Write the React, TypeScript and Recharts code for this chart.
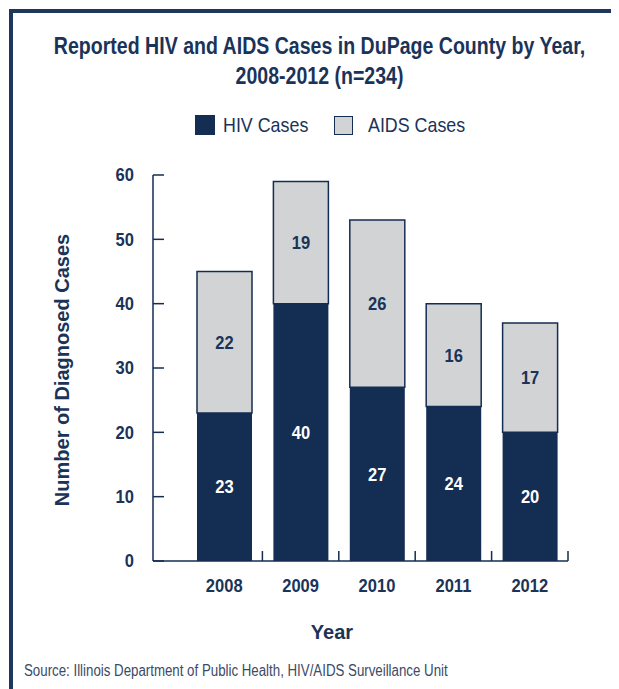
import React from "react";
import { BarChart, Bar, XAxis, YAxis, LabelList, Legend } from "recharts";

const years = ["2008", "2009", "2010", "2011", "2012"];
const hivCases = [23, 40, 27, 24, 20];
const aidsCases = [22, 19, 26, 16, 17];
const yTicks = [0, 10, 20, 30, 40, 50, 60];

const NAVY = "#142d52";
const GREY = "#d1d3d5";
const TEXT = "#1b3358";
const FONT = '"Liberation Sans", Arial, sans-serif';
const SQUEEZE = 0.87;

const data = years.map((year, i) => ({
  year,
  hiv: hivCases[i],
  aids: aidsCases[i],
}));

// plot box inside the wrapper div
const PLOT_LEFT = 145;
const PLOT_BOTTOM = 553;

// condensed svg text (no narrow font available)
const Narrow = ({ x, y, anchor = "middle", fill = TEXT, children }: any) => (
  <text
    transform={`translate(${x},${y}) scale(${SQUEEZE},1)`}
    textAnchor={anchor}
    dominantBaseline="central"
    fill={fill}
    fontSize={19}
    fontWeight="bold"
    fontFamily={FONT}
  >
    {children}
  </text>
);

const YTick = (props: any) => {
  const { x, y, payload } = props;
  return (
    <g>
      <line x1={PLOT_LEFT} x2={PLOT_LEFT + 11} y1={y} y2={y} stroke={NAVY} strokeWidth={1.5} />
      <Narrow x={x} y={y} anchor="end">
        {payload.value}
      </Narrow>
    </g>
  );
};

const XTick = (props: any) => {
  const { x, y, payload } = props;
  const half = payload.offset ?? 38;
  return (
    <g>
      <line
        x1={x + half}
        x2={x + half}
        y1={PLOT_BOTTOM}
        y2={PLOT_BOTTOM - 10}
        stroke={NAVY}
        strokeWidth={1.5}
      />
      <Narrow x={x} y={y}>
        {payload.value}
      </Narrow>
    </g>
  );
};

const segmentLabel = (fill: string) => (props: any) => {
  const { x, y, width, height, value } = props;
  return (
    <Narrow x={x + width / 2} y={y + height / 2} fill={fill}>
      {value}
    </Narrow>
  );
};

const LegendBox = () => (
  <div
    style={{
      height: 0,
      display: "flex",
      alignItems: "center",
      fontFamily: FONT,
      fontSize: 21,
      color: TEXT,
      paddingLeft: 187,
    }}
  >
    <span style={{ width: 20, height: 20, background: NAVY, display: "inline-block", flex: "none" }} />
    <span
      style={{
        marginLeft: 8,
        transform: "scaleX(0.85)",
        transformOrigin: "left center",
        width: 103,
        flex: "none",
        whiteSpace: "nowrap",
      }}
    >
      HIV Cases
    </span>
    <span
      style={{
        width: 17,
        height: 17,
        background: GREY,
        border: `1.5px solid ${NAVY}`,
        display: "inline-block",
        flex: "none",
        marginLeft: 8,
      }}
    />
    <span
      style={{
        marginLeft: 15,
        transform: "scaleX(0.85)",
        transformOrigin: "left center",
        whiteSpace: "nowrap",
      }}
    >
      AIDS Cases
    </span>
  </div>
);

const App = () => {
  return (
    <div style={{ position: "relative", width: 611, height: 681, fontFamily: FONT, color: TEXT }}>
      <div
        style={{
          position: "absolute",
          left: 1,
          top: 1,
          right: 0,
          bottom: 0,
          borderTop: `4px solid #1d375e`,
          borderLeft: `4px solid #1d375e`,
        }}
      />
      <div
        style={{
          position: "absolute",
          top: 23,
          left: -100,
          width: 823,
          textAlign: "center",
          fontWeight: "bold",
          fontSize: 23,
          lineHeight: "30px",
          whiteSpace: "nowrap",
          transform: "scaleX(0.85)",
          transformOrigin: "411.5px 0",
        }}
      >
        Reported HIV and AIDS Cases in DuPage County by Year,
        <br />
        2008-2012 (n=234)
      </div>
      <div style={{ position: "absolute", top: 0, left: 0 }}>
        <BarChart
          width={611}
          height={681}
          data={data}
          margin={{ top: 167, right: 51, left: 85, bottom: 98 }}
        >
          <Legend verticalAlign="top" content={<LegendBox />} wrapperStyle={{ top: 117, left: 0, width: 611 }} />
          <YAxis
            domain={[0, 60]}
            ticks={yTicks}
            width={60}
            tickSize={0}
            tickMargin={19}
            tickLine={false}
            axisLine={{ stroke: NAVY, strokeWidth: 1.5 }}
            tick={<YTick />}
          />
          <XAxis
            dataKey="year"
            height={30}
            padding={{ left: 33, right: 0 }}
            tickSize={0}
            tickMargin={25}
            tickLine={false}
            axisLine={{ stroke: NAVY, strokeWidth: 1.5 }}
            tick={<XTick />}
          />
          <Bar dataKey="hiv" stackId="a" fill={NAVY} barSize={55} isAnimationActive={false}>
            <LabelList dataKey="hiv" content={segmentLabel("#ffffff")} />
          </Bar>
          <Bar
            dataKey="aids"
            stackId="a"
            fill={GREY}
            stroke={NAVY}
            strokeWidth={1.5}
            barSize={55}
            isAnimationActive={false}
          >
            <LabelList dataKey="aids" content={segmentLabel(TEXT)} />
          </Bar>
        </BarChart>
      </div>
      <div
        style={{
          position: "absolute",
          left: 54,
          top: 362,
          transform: "translate(-50%, -50%) rotate(-90deg)",
          whiteSpace: "nowrap",
          fontWeight: "bold",
          fontSize: 20,
        }}
      >
        Number of Diagnosed Cases
      </div>
      <div
        style={{
          position: "absolute",
          left: 324,
          top: 624,
          transform: "translate(-50%, -50%)",
          fontWeight: "bold",
          fontSize: 20,
        }}
      >
        Year
      </div>
      <div
        style={{
          position: "absolute",
          left: 16,
          top: 654,
          fontSize: 16,
          color: "#3b4a66",
          whiteSpace: "nowrap",
          transform: "scaleX(0.83)",
          transformOrigin: "0 0",
        }}
      >
        Source: Illinois Department of Public Health, HIV/AIDS Surveillance Unit
      </div>
    </div>
  );
};

export default App;
